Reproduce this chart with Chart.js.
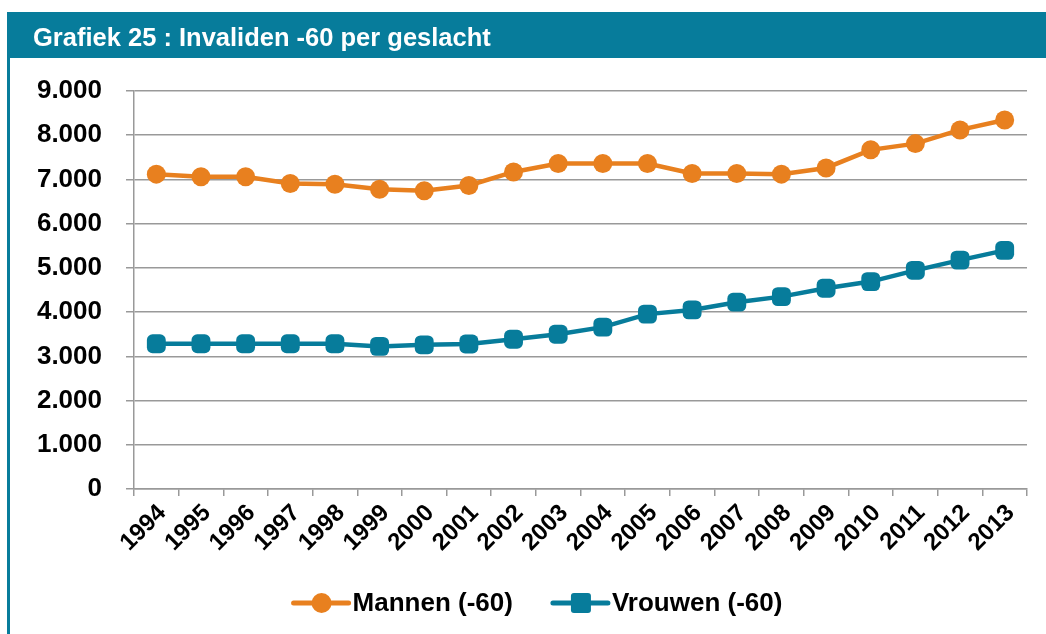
<!DOCTYPE html>
<html>
<head>
<meta charset="utf-8">
<script src="https://cdn.jsdelivr.net/npm/chart.js@4.4.1/dist/chart.umd.min.js"></script>
<style>
  html, body { margin: 0; padding: 0; background: #fff; }
</style>
</head>
<body>
<canvas id="invalidenChart" width="1046" height="634"></canvas>
<script>
const title = 'Grafiek 25 : Invaliden -60 per geslacht';
const years = ['1994', '1995', '1996', '1997', '1998', '1999', '2000', '2001', '2002', '2003',
  '2004', '2005', '2006', '2007', '2008', '2009', '2010', '2011', '2012', '2013'];
const mannen = [7120, 7060, 7060, 6910, 6890, 6780, 6745, 6865, 7170, 7360,
  7360, 7360, 7135, 7135, 7120, 7260, 7670, 7810, 8120, 8345];
const vrouwen = [3285, 3285, 3285, 3285, 3285, 3225, 3260, 3280, 3385, 3500,
  3660, 3955, 4050, 4225, 4350, 4540, 4690, 4945, 5175, 5395];
const yTicks = [0, 1000, 2000, 3000, 4000, 5000, 6000, 7000, 8000, 9000];

const orange = '#E8801F';
const teal = '#077C9B';
const font = 'Liberation Sans, Arial, sans-serif';

// dutch thousands separator
const fmt = v => String(v).replace(/\B(?=(\d{3})+(?!\d))/g, '.');

// title bar + frame line
const frame = {
  id: 'frame',
  beforeDraw(chart) {
    const c = chart.ctx;
    c.save();
    c.fillStyle = teal;
    c.fillRect(8, 12, chart.width - 8, 46);
    c.fillRect(7, 12, 3, chart.height - 12);
    c.fillStyle = '#fff';
    c.font = 'bold 25.5px ' + font;
    c.textBaseline = 'alphabetic';
    c.fillText(title, 33, 46);
    c.restore();
  }
};

// legend with line + marker, like the office chart
const lineLegend = {
  id: 'lineLegend',
  afterDraw(chart) {
    const c = chart.ctx;
    c.save();
    c.font = 'bold 26px ' + font;
    const items = chart.data.datasets.map(ds => ({ ds, w: c.measureText(ds.label).width }));
    const gap = 40;
    const total = items.reduce((s, it) => s + 59 + it.w, 0) + gap * (items.length - 1);
    let x = 538 - total / 2;
    const y = 603;
    items.forEach(it => {
      c.strokeStyle = it.ds.borderColor;
      c.lineWidth = 5;
      c.lineCap = 'round';
      c.beginPath();
      c.moveTo(x, y);
      c.lineTo(x + 55, y);
      c.stroke();
      c.fillStyle = it.ds.borderColor;
      if (it.ds.pointStyle === 'circle') {
        c.beginPath();
        c.arc(x + 28, y, 10, 0, Math.PI * 2);
        c.fill();
      } else {
        c.beginPath();
        c.roundRect(x + 18, y - 10, 20, 20, 3);
        c.fill();
      }
      c.fillStyle = '#000';
      c.textBaseline = 'middle';
      c.fillText(it.ds.label, x + 59, y + 1);
      x += 59 + it.w + gap;
    });
    c.restore();
  }
};

const ctx = document.getElementById('invalidenChart').getContext('2d');

const chart = new Chart(ctx, {
  type: 'line',
  data: {
    labels: years,
    datasets: [{
      label: 'Mannen (-60)',
      data: mannen,
      borderColor: orange,
      backgroundColor: orange,
      borderWidth: 4.5,
      pointStyle: 'circle',
      pointRadius: 9.5,
      pointBorderWidth: 0,
      tension: 0
    }, {
      label: 'Vrouwen (-60)',
      data: vrouwen,
      borderColor: teal,
      backgroundColor: teal,
      borderWidth: 4.5,
      pointStyle: 'rectRounded',
      pointRadius: 11,
      pointBorderWidth: 0,
      tension: 0
    }]
  },
  plugins: [frame, lineLegend],
  options: {
    responsive: false,
    animation: false,
    layout: {
      padding: { top: 91, right: 19, bottom: 0, left: 0 }
    },
    plugins: {
      legend: { display: false },
      tooltip: { enabled: false }
    },
    scales: {
      x: {
        offset: true,
        grid: {
          offset: true,
          drawOnChartArea: false,
          drawTicks: true,
          tickLength: 7,
          color: '#999',
          lineWidth: 1.5
        },
        border: { color: '#999', width: 1.5 },
        ticks: {
          autoSkip: false,
          minRotation: 45,
          maxRotation: 45,
          labelOffset: 6,
          color: '#000',
          padding: 3,
          font: { family: font, size: 24, weight: 'bold' }
        },
        afterFit(scale) { scale.height = 145; }
      },
      y: {
        min: 0,
        max: 9000,
        afterBuildTicks(scale) { scale.ticks = yTicks.map(v => ({ value: v })); },
        grid: {
          color: '#999',
          lineWidth: 1.5,
          tickLength: 8
        },
        border: { color: '#999', width: 1.5 },
        ticks: {
          color: '#000',
          padding: 24,
          font: { family: font, size: 26, weight: 'bold' },
          callback: v => fmt(v)
        },
        afterFit(scale) { scale.width = 134; }
      }
    }
  }
});
</script>
</body>
</html>
